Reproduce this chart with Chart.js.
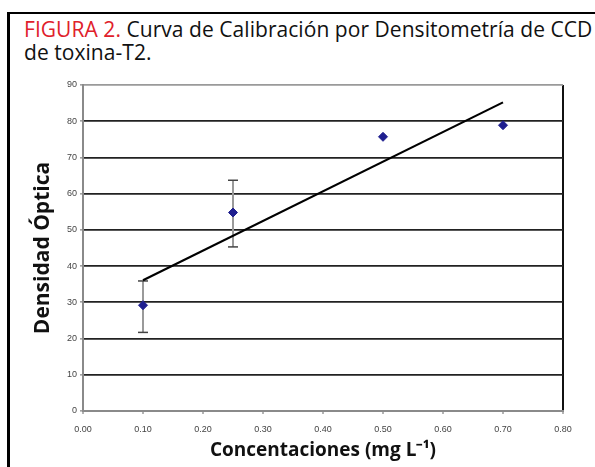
<!DOCTYPE html>
<html>
<head>
<meta charset="utf-8">
<script src="https://cdn.jsdelivr.net/npm/chart.js@4/dist/chart.umd.min.js"></script>
<style>
  html, body { margin: 0; padding: 0; background: #fff; }
  body { width: 595px; height: 467px; position: relative; overflow: hidden; }
  #frame { position: absolute; left: 7px; top: 12px; width: 700px; height: 600px; border-left: 3px solid #000; border-top: 2px solid #000; }
  #title { position: absolute; left: 24px; top: 18px; font-family: "Open Sans", sans-serif; font-size: 21px; line-height: 23px; color: #111; white-space: nowrap; letter-spacing: 0.05px; }
  #title .fig { color: #e0202a; }
  #wrap { position: absolute; left: 0; top: 0; width: 595px; height: 467px; }
</style>
</head>
<body>
<div id="frame"></div>
<div id="title"><span class="fig">FIGURA 2.</span> Curva de Calibración por Densitometría de CCD<br>de toxina-T2.</div>
<div id="wrap"><canvas id="c" width="595" height="467"></canvas></div>
<script>
// ---- data ----
const concentrations = [0.10, 0.25, 0.50, 0.70];
const density = [29.2, 54.8, 75.7, 78.9];
const errLow = [21.7, 45.3, null, null];
const errHigh = [35.9, 63.7, null, null];
const trendX = [0.10, 0.70];
const trendY = [36.1, 85.2];
const yTicks = [0, 10, 20, 30, 40, 50, 60, 70, 80, 90];
const xTicks = [0.00, 0.10, 0.20, 0.30, 0.40, 0.50, 0.60, 0.70, 0.80];
const xTitle = 'Concentaciones (mg L\u207B\u00B9)';
const yTitle = 'Densidad Óptica';

// ---- datasets ----
const datasets = [];
concentrations.forEach((x, i) => {
  if (errLow[i] != null && errHigh[i] != null) {
    datasets.push({
      type: 'line',
      data: [{x: x, y: errLow[i]}, {x: x, y: errHigh[i]}],
      borderColor: '#9a9a9a',
      borderWidth: 2,
      pointStyle: 'line',
      pointRadius: 5,
      pointBorderWidth: 1.5,
      pointBorderColor: '#444',
      pointBackgroundColor: '#444',
      showLine: true,
      order: 3
    });
  }
});
datasets.push({
  type: 'line',
  data: trendX.map((x, i) => ({x: x, y: trendY[i]})),
  borderColor: '#000',
  borderWidth: 2.2,
  pointRadius: 0,
  showLine: true,
  order: 2
});
datasets.push({
  type: 'scatter',
  data: concentrations.map((x, i) => ({x: x, y: density[i]})),
  pointStyle: 'rectRot',
  pointRadius: 4.5,
  backgroundColor: '#1f1f8f',
  borderColor: '#1f1f8f',
  borderWidth: 1,
  order: 1
});

new Chart(document.getElementById('c'), {
  type: 'scatter',
  data: { datasets },
  options: {
    responsive: false,
    animation: false,
    devicePixelRatio: 1,
    layout: { padding: { top: 85, right: 32, bottom: 0, left: 0 } },
    plugins: { legend: { display: false }, tooltip: { enabled: false } },
    scales: {
      x: {
        type: 'linear',
        min: xTicks[0], max: xTicks[xTicks.length - 1],
        afterBuildTicks: (s) => { s.ticks = xTicks.map(v => ({value: v})); },
        afterFit: (s) => { s.height = 56; },
        border: { color: '#8a8a8a', width: 2 },
        grid: {
          drawOnChartArea: true,
          color: (ctx) => (ctx.tick && Math.abs(ctx.tick.value - 0.8) < 1e-6) ? '#111' : 'rgba(0,0,0,0)',
          lineWidth: 2,
          tickLength: 3,
          tickColor: '#666',
          tickWidth: 1
        },
        ticks: {
          padding: 10,
          color: '#444',
          font: { family: 'Liberation Sans', size: 9 },
          maxRotation: 0,
          autoSkip: false,
          callback: (v) => Number(v).toFixed(2)
        },
        title: {
          display: true,
          text: xTitle,
          color: '#111',
          font: { family: 'Open Sans', size: 19, weight: 'bold' },
          padding: { top: 0, bottom: 5 }
        }
      },
      y: {
        min: yTicks[0], max: yTicks[yTicks.length - 1],
        afterBuildTicks: (s) => { s.ticks = yTicks.map(v => ({value: v})); },
        afterFit: (s) => { s.width = 83; },
        border: { color: '#8a8a8a', width: 2 },
        grid: {
          color: (ctx) => (ctx.tick && (ctx.tick.value === 0 || ctx.tick.value === 90)) ? '#9a9a9a' : '#222',
          lineWidth: 1.8,
          tickLength: 3,
          tickColor: '#666',
          tickWidth: 1
        },
        ticks: {
          padding: 3,
          color: '#444',
          font: { family: 'Liberation Sans', size: 9 },
          autoSkip: false
        },
        title: {
          display: true,
          text: yTitle,
          color: '#111',
          font: { family: 'Open Sans', size: 21, weight: 'bold' },
          padding: { top: 30, bottom: 0 }
        }
      }
    }
  }
});
</script>
</body>
</html>
